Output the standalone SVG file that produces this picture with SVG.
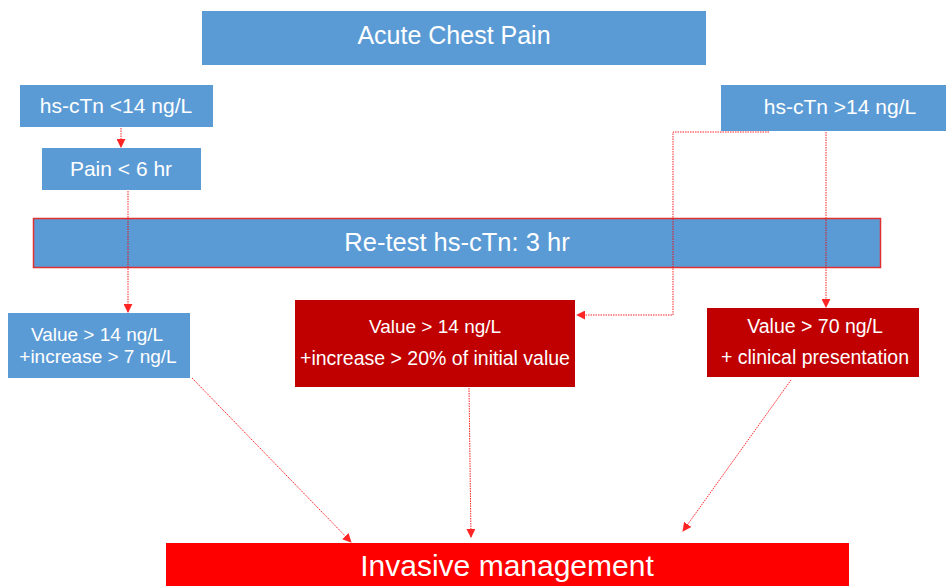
<svg xmlns="http://www.w3.org/2000/svg" width="946" height="586" viewBox="0 0 946 586">
<style>
.blue{fill:#5B9BD5}
.dred{fill:#C00000}
.red{fill:#FF0000}
text{font-family:"Liberation Sans",Arial,sans-serif;fill:#fff;text-anchor:middle}
.c{fill:none;stroke:#FF0000;stroke-width:1;stroke-dasharray:1.5 1;opacity:0.85}
</style>
<defs>
<marker id="ah" viewBox="0 0 10 10" refX="9" refY="5" markerWidth="9" markerHeight="9" markerUnits="userSpaceOnUse" orient="auto">
<path d="M0,0L10,5L0,10z" fill="#FF0000"/>
</marker>
</defs>
<rect width="946" height="586" fill="#fff"/>
<g id="acute"><rect class="blue" x="202" y="11" width="504" height="54"/><text x="454" y="44" font-size="25">Acute Chest Pain</text></g>
<g id="lt14"><rect class="blue" x="20" y="85" width="193" height="42"/><text x="116" y="113" font-size="21">hs-cTn &lt;14 ng/L</text></g>
<g id="pain"><rect class="blue" x="42" y="148" width="159" height="42"/><text x="121" y="176" font-size="21">Pain &lt; 6 hr</text></g>
<g id="gt14"><rect class="blue" x="721" y="85" width="225" height="46"/><text x="840" y="114" font-size="21">hs-cTn &gt;14 ng/L</text></g>
<g id="retest"><rect class="blue" x="33.5" y="218.5" width="847" height="49" stroke="#E03030" stroke-width="1.5"/><text x="457" y="251" font-size="25.5">Re-test hs-cTn: 3 hr</text></g>
<g id="vleft"><rect class="blue" x="8" y="313" width="182" height="65"/><text x="97" y="341" font-size="19">Value &gt; 14 ng/L</text><text x="98" y="363" font-size="19">+increase &gt; 7 ng/L</text></g>
<g id="vmid"><rect class="dred" x="295" y="300" width="280" height="87"/><text x="435" y="333" font-size="19">Value &gt; 14 ng/L</text><text x="435" y="365" font-size="19.5">+increase &gt; 20% of initial value</text></g>
<g id="vright"><rect class="dred" x="707" y="308" width="212" height="69"/><text x="815" y="333" font-size="19.5">Value &gt; 70 ng/L</text><text x="815" y="364" font-size="19.5">+ clinical presentation</text></g>
<g id="invasive"><rect class="red" x="166" y="543" width="683" height="43"/><text x="507" y="576" font-size="30">Invasive management</text></g>
<g id="connectors">
<path class="c" d="M121,128V147" marker-end="url(#ah)"/>
<path class="c" d="M128,191V312" marker-end="url(#ah)"/>
<path class="c" d="M769,132H673V315H577" marker-end="url(#ah)"/>
<path class="c" d="M826,132V307" marker-end="url(#ah)"/>
<path class="c" d="M192,378L351,542" marker-end="url(#ah)"/>
<path class="c" d="M469,388L471,537" marker-end="url(#ah)"/>
<path class="c" d="M791,380L683,531" marker-end="url(#ah)"/>
</g>
</svg>
